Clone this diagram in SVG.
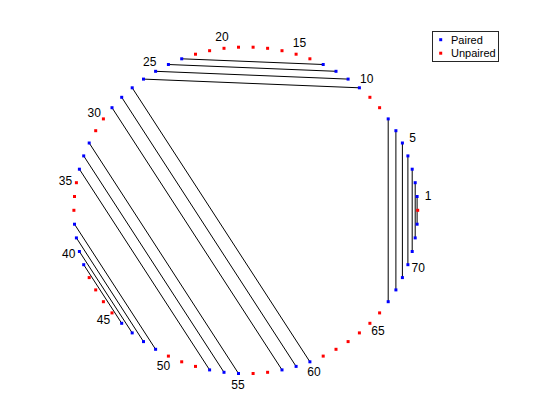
<svg xmlns="http://www.w3.org/2000/svg" width="560" height="420" viewBox="0 0 560 420">
<style>
.bg{fill:#fff}
.c line{stroke:#000;stroke-width:1}
.p{fill:#0000ff}
.u{fill:#ff0000}
.lbl{font-family:"Liberation Sans",Arial,sans-serif;font-size:12px;fill:#000;text-anchor:middle;dominant-baseline:central}
.leg{font-family:"Liberation Sans",Arial,sans-serif;font-size:11px;fill:#000;dominant-baseline:central}
</style>
<defs>
<rect id="m" x="-1.5" y="-1.5" width="3" height="3"/>
</defs>
<rect class="bg" x="0" y="0" width="560" height="420"/>
<g id="connectors" class="c">
<line x1="417.1" y1="196.5" x2="417.1" y2="224.2"/>
<line x1="415.2" y1="182.7" x2="415.2" y2="237.9"/>
<line x1="412.2" y1="169.2" x2="412.2" y2="251.5"/>
<line x1="407.9" y1="155.9" x2="407.9" y2="264.7"/>
<line x1="402.4" y1="143.0" x2="402.4" y2="277.6"/>
<line x1="395.9" y1="130.7" x2="395.9" y2="289.9"/>
<line x1="388.2" y1="118.9" x2="388.2" y2="301.7"/>
<line x1="359.4" y1="87.8" x2="143.5" y2="79.1"/>
<line x1="348.1" y1="79.1" x2="155.6" y2="71.3"/>
<line x1="336.0" y1="71.3" x2="168.4" y2="64.5"/>
<line x1="323.2" y1="64.5" x2="181.7" y2="58.8"/>
<line x1="132.2" y1="87.8" x2="309.9" y2="361.8"/>
<line x1="121.7" y1="97.3" x2="296.1" y2="366.4"/>
<line x1="112.0" y1="107.7" x2="282.0" y2="369.9"/>
<line x1="89.2" y1="143.0" x2="238.5" y2="373.5"/>
<line x1="83.7" y1="155.9" x2="224.0" y2="372.3"/>
<line x1="79.4" y1="169.2" x2="209.6" y2="369.9"/>
<line x1="74.5" y1="224.2" x2="155.6" y2="349.3"/>
<line x1="76.4" y1="237.9" x2="143.5" y2="341.6"/>
<line x1="79.4" y1="251.5" x2="132.2" y2="332.9"/>
<line x1="83.7" y1="264.7" x2="121.7" y2="323.3"/>
</g>
<g id="n1"><use href="#m" class="p" x="417.1" y="196.5"/></g>
<g id="n2"><use href="#m" class="p" x="415.2" y="182.7"/></g>
<g id="n3"><use href="#m" class="p" x="412.2" y="169.2"/></g>
<g id="n4"><use href="#m" class="p" x="407.9" y="155.9"/></g>
<g id="n5"><use href="#m" class="p" x="402.4" y="143.0"/></g>
<g id="n6"><use href="#m" class="p" x="395.9" y="130.7"/></g>
<g id="n7"><use href="#m" class="p" x="388.2" y="118.9"/></g>
<g id="n8"><use href="#m" class="u" x="379.6" y="107.7"/></g>
<g id="n9"><use href="#m" class="u" x="369.9" y="97.3"/></g>
<g id="n10"><use href="#m" class="p" x="359.4" y="87.8"/></g>
<g id="n11"><use href="#m" class="p" x="348.1" y="79.1"/></g>
<g id="n12"><use href="#m" class="p" x="336.0" y="71.3"/></g>
<g id="n13"><use href="#m" class="p" x="323.2" y="64.5"/></g>
<g id="n14"><use href="#m" class="u" x="309.9" y="58.8"/></g>
<g id="n15"><use href="#m" class="u" x="296.1" y="54.2"/></g>
<g id="n16"><use href="#m" class="u" x="282.0" y="50.7"/></g>
<g id="n17"><use href="#m" class="u" x="267.6" y="48.3"/></g>
<g id="n18"><use href="#m" class="u" x="253.1" y="47.2"/></g>
<g id="n19"><use href="#m" class="u" x="238.5" y="47.2"/></g>
<g id="n20"><use href="#m" class="u" x="224.0" y="48.3"/></g>
<g id="n21"><use href="#m" class="u" x="209.6" y="50.7"/></g>
<g id="n22"><use href="#m" class="u" x="195.5" y="54.2"/></g>
<g id="n23"><use href="#m" class="p" x="181.7" y="58.8"/></g>
<g id="n24"><use href="#m" class="p" x="168.4" y="64.5"/></g>
<g id="n25"><use href="#m" class="p" x="155.6" y="71.3"/></g>
<g id="n26"><use href="#m" class="p" x="143.5" y="79.1"/></g>
<g id="n27"><use href="#m" class="p" x="132.2" y="87.8"/></g>
<g id="n28"><use href="#m" class="p" x="121.7" y="97.3"/></g>
<g id="n29"><use href="#m" class="p" x="112.0" y="107.7"/></g>
<g id="n30"><use href="#m" class="u" x="103.4" y="118.9"/></g>
<g id="n31"><use href="#m" class="u" x="95.7" y="130.7"/></g>
<g id="n32"><use href="#m" class="p" x="89.2" y="143.0"/></g>
<g id="n33"><use href="#m" class="p" x="83.7" y="155.9"/></g>
<g id="n34"><use href="#m" class="p" x="79.4" y="169.2"/></g>
<g id="n35"><use href="#m" class="u" x="76.4" y="182.7"/></g>
<g id="n36"><use href="#m" class="u" x="74.5" y="196.5"/></g>
<g id="n37"><use href="#m" class="u" x="73.9" y="210.3"/></g>
<g id="n38"><use href="#m" class="p" x="74.5" y="224.2"/></g>
<g id="n39"><use href="#m" class="p" x="76.4" y="237.9"/></g>
<g id="n40"><use href="#m" class="p" x="79.4" y="251.5"/></g>
<g id="n41"><use href="#m" class="p" x="83.7" y="264.7"/></g>
<g id="n42"><use href="#m" class="u" x="89.2" y="277.6"/></g>
<g id="n43"><use href="#m" class="u" x="95.7" y="289.9"/></g>
<g id="n44"><use href="#m" class="u" x="103.4" y="301.7"/></g>
<g id="n45"><use href="#m" class="u" x="112.0" y="312.9"/></g>
<g id="n46"><use href="#m" class="p" x="121.7" y="323.3"/></g>
<g id="n47"><use href="#m" class="p" x="132.2" y="332.9"/></g>
<g id="n48"><use href="#m" class="p" x="143.5" y="341.6"/></g>
<g id="n49"><use href="#m" class="p" x="155.6" y="349.3"/></g>
<g id="n50"><use href="#m" class="u" x="168.4" y="356.1"/></g>
<g id="n51"><use href="#m" class="u" x="181.7" y="361.8"/></g>
<g id="n52"><use href="#m" class="u" x="195.5" y="366.4"/></g>
<g id="n53"><use href="#m" class="p" x="209.6" y="369.9"/></g>
<g id="n54"><use href="#m" class="p" x="224.0" y="372.3"/></g>
<g id="n55"><use href="#m" class="p" x="238.5" y="373.5"/></g>
<g id="n56"><use href="#m" class="u" x="253.1" y="373.5"/></g>
<g id="n57"><use href="#m" class="u" x="267.6" y="372.3"/></g>
<g id="n58"><use href="#m" class="p" x="282.0" y="369.9"/></g>
<g id="n59"><use href="#m" class="p" x="296.1" y="366.4"/></g>
<g id="n60"><use href="#m" class="p" x="309.9" y="361.8"/></g>
<g id="n61"><use href="#m" class="u" x="323.2" y="356.1"/></g>
<g id="n62"><use href="#m" class="u" x="336.0" y="349.3"/></g>
<g id="n63"><use href="#m" class="u" x="348.1" y="341.6"/></g>
<g id="n64"><use href="#m" class="u" x="359.4" y="332.9"/></g>
<g id="n65"><use href="#m" class="u" x="369.9" y="323.3"/></g>
<g id="n66"><use href="#m" class="u" x="379.6" y="312.9"/></g>
<g id="n67"><use href="#m" class="p" x="388.2" y="301.7"/></g>
<g id="n68"><use href="#m" class="p" x="395.9" y="289.9"/></g>
<g id="n69"><use href="#m" class="p" x="402.4" y="277.6"/></g>
<g id="n70"><use href="#m" class="p" x="407.9" y="264.7"/></g>
<g id="n71"><use href="#m" class="p" x="412.2" y="251.5"/></g>
<g id="n72"><use href="#m" class="p" x="415.2" y="237.9"/></g>
<g id="n73"><use href="#m" class="p" x="417.1" y="224.2"/></g>
<g id="n74"><use href="#m" class="u" x="417.7" y="210.3"/></g>
<g id="labels" class="lbl">
<text x="428.1" y="195.5">1</text>
<text x="412.6" y="138.4">5</text>
<text x="366.7" y="79.3">10</text>
<text x="299.4" y="43.4">15</text>
<text x="222.0" y="37.2">20</text>
<text x="149.8" y="61.7">25</text>
<text x="94.2" y="112.6">30</text>
<text x="65.4" y="180.8">35</text>
<text x="68.7" y="254.3">40</text>
<text x="103.4" y="319.9">45</text>
<text x="163.4" y="366.1">50</text>
<text x="238.0" y="384.6">55</text>
<text x="314.0" y="372.2">60</text>
<text x="378.0" y="331.0">65</text>
<text x="418.3" y="268.4">70</text>
</g>
<g id="legend">
<rect x="432.5" y="31.5" width="66" height="30" fill="#fff" stroke="#262626" stroke-width="1"/>
<use href="#m" class="p" x="440.7" y="39.7"/>
<use href="#m" class="u" x="440.7" y="53.2"/>
<text class="leg" x="451" y="40">Paired</text>
<text class="leg" x="451" y="53.3">Unpaired</text>
</g>
</svg>
